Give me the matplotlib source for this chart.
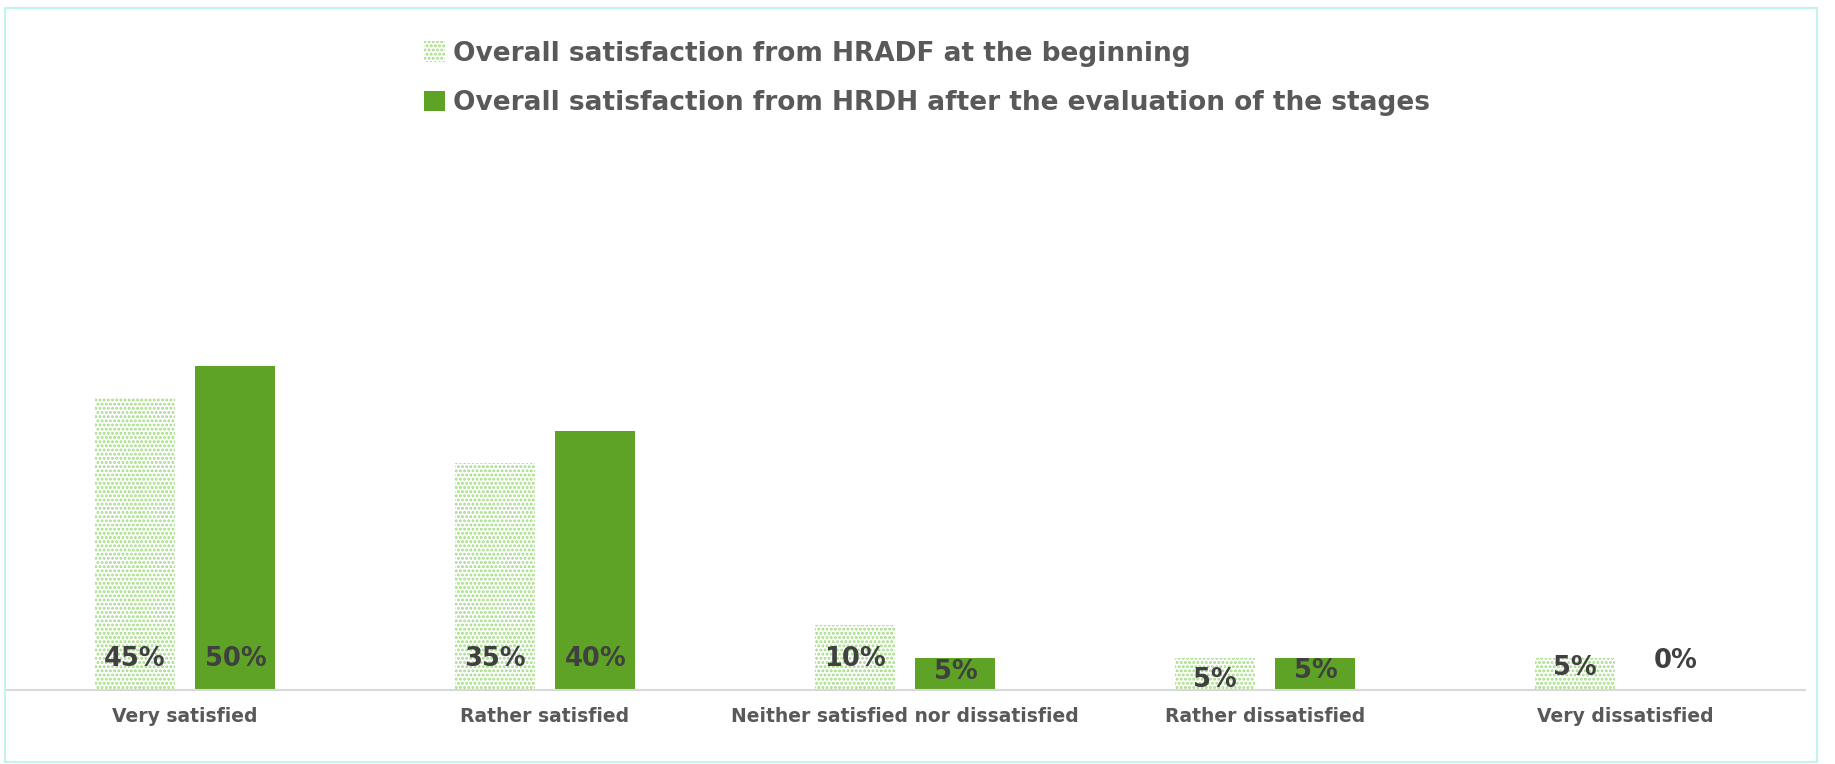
import numpy as np
import matplotlib
matplotlib.use("Agg")
import matplotlib.pyplot as plt
from matplotlib.patches import Rectangle

# Data
categories = ["Very satisfied", "Rather satisfied", "Neither satisfied nor dissatisfied",
              "Rather dissatisfied", "Very dissatisfied"]
beginning = [45, 35, 10, 5, 5]
after_eval = [50, 40, 5, 5, 0]
series_names = ["Overall satisfaction from HRADF at the beginning",
                "Overall satisfaction from HRDH after the evaluation of the stages"]

# label offsets above the baseline (points), mimicking Excel "inside base"
off_begin = [22, 22, 22, 7, 16]
off_after = [22, 22, 13, 14, 21]

light = "#9fdc7e"
dark = "#5ea226"
text_dark = "#404040"
text_gray = "#595959"

plt.rcParams["hatch.linewidth"] = 1.4
W, H = 1835, 764
fig = plt.figure(figsize=(W / 100, H / 100), dpi=100)

# outer border
fig.patches.append(Rectangle((5 / W, 2 / H), 1812 / W, 754 / H, transform=fig.transFigure,
                             fill=False, edgecolor="#c3f3ee", linewidth=1.5))

ax = fig.add_axes([5 / W, (H - 690) / H, 1800 / W, 648 / H])
x = np.arange(len(categories))
bw = 0.222
off = 0.14
b1 = ax.bar(x - off, beginning, bw, color="white", edgecolor=light, hatch="....", linewidth=0)
b2 = ax.bar(x + off, after_eval, bw, color=dark, linewidth=0)

for i in range(len(categories)):
    ax.annotate(f"{beginning[i]}%", (x[i] - off, 0), xytext=(0, off_begin[i]), textcoords="offset points",
                ha="center", va="center", fontsize=18.5, fontweight="bold", color=text_dark)
    ax.annotate(f"{after_eval[i]}%", (x[i] + off, 0), xytext=(0, off_after[i]), textcoords="offset points",
                ha="center", va="center", fontsize=18.5, fontweight="bold", color=text_dark)

ax.set_xlim(-0.5, len(categories) - 0.5)
ax.set_ylim(0, 100)
ax.set_yticks([])
ax.set_xticks(x)
ax.set_xticklabels(categories, fontsize=13.5, fontweight="bold", color=text_gray)
ax.tick_params(axis="x", length=0, pad=12)
for s in ["top", "right", "left"]:
    ax.spines[s].set_visible(False)
ax.spines["bottom"].set_color("#d9d9d9")
ax.spines["bottom"].set_linewidth(1.5)

leg = fig.legend([b1, b2], series_names, loc="upper left", bbox_to_anchor=(400 / W, 1 - 17 / H),
                 frameon=False, handlelength=0.8, handleheight=0.8, handletextpad=0.3,
                 labelspacing=0.9, prop={"size": 19, "weight": "bold"})
for t in leg.get_texts():
    t.set_color(text_gray)

fig.savefig("out.png", dpi=100)
